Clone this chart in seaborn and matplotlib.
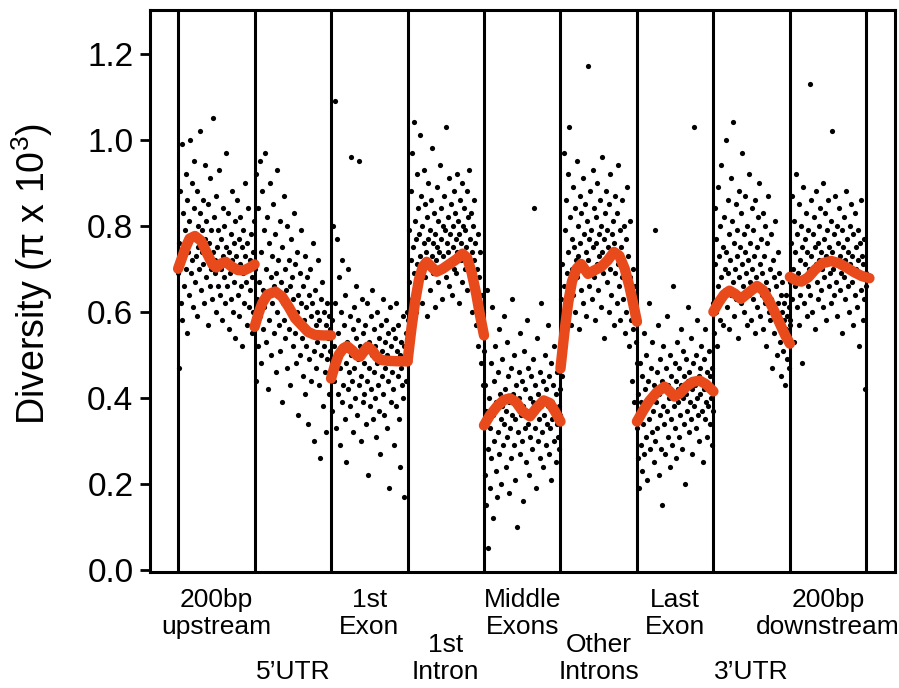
import numpy as np
import pandas as pd
import matplotlib
matplotlib.use('Agg')
import matplotlib.pyplot as plt
import matplotlib.transforms as mtransforms
import seaborn as sns

# region labels (left to right)
regions = ["200bp\nupstream", "5\u2019UTR", "1st\nExon", "1st\nIntron", "Middle\nExons",
           "Other\nIntrons", "Last\nExon", "3\u2019UTR", "200bp\ndownstream"]

# diversity per window (pi x 10^3)
up200 = [0.69, 0.47, 0.76, 0.88, 0.62, 0.71, 0.99, 0.58, 0.83, 0.73, 0.66, 0.79, 0.92, 0.70, 0.55, 0.86, 0.74, 0.81, 0.64, 1.00,
         0.77, 0.69, 0.90, 0.72, 0.61, 0.84, 0.95, 0.78, 0.67, 0.73, 0.88, 0.59, 0.80, 0.75, 0.70, 0.83, 1.02, 0.65, 0.79, 0.74,
         0.86, 0.71, 0.62, 0.94, 0.77, 0.68, 0.81, 0.73, 0.57, 0.85, 0.76, 0.66, 0.91, 0.70, 0.79, 0.63, 0.74, 1.05, 0.82, 0.69,
         0.72, 0.60, 0.87, 0.75, 0.66, 0.79, 0.71, 0.93, 0.64, 0.77, 0.70, 0.58, 0.84, 0.73, 0.68, 0.80, 0.62, 0.75, 0.97, 0.71,
         0.66, 0.83, 0.56, 0.74, 0.69, 0.78, 0.63, 0.88, 0.72, 0.60, 0.76, 0.67, 0.81, 0.54, 0.73, 0.70, 0.86, 0.64, 0.77, 0.59,
         0.71, 0.82, 0.66, 0.75, 0.52, 0.69, 0.79, 0.62, 0.73, 0.90, 0.67, 0.57, 0.76, 0.70, 0.84, 0.61, 0.72, 0.65, 0.78, 0.55,
         0.68, 0.74, 0.60, 0.81, 0.70]
utr5 = [0.57, 0.71, 0.44, 0.92, 0.63, 0.52, 0.84, 0.67, 0.95, 0.59, 0.74, 0.48, 0.88, 0.65, 0.56, 0.79, 0.61, 0.97, 0.70, 0.53,
        0.82, 0.64, 0.42, 0.76, 0.58, 0.90, 0.68, 0.50, 0.73, 0.62, 0.85, 0.55, 0.66, 0.78, 0.46, 0.69, 0.60, 0.93, 0.72, 0.57,
        0.64, 0.81, 0.51, 0.67, 0.75, 0.39, 0.62, 0.87, 0.58, 0.70, 0.54, 0.65, 0.80, 0.47, 0.61, 0.72, 0.56, 0.66, 0.43, 0.77,
        0.59, 0.68, 0.52, 0.63, 0.83, 0.55, 0.71, 0.48, 0.60, 0.74, 0.36, 0.64, 0.57, 0.69, 0.50, 0.62, 0.79, 0.54, 0.45, 0.66,
        0.58, 0.73, 0.41, 0.61, 0.52, 0.68, 0.56, 0.34, 0.64, 0.49, 0.70, 0.59, 0.44, 0.62, 0.55, 0.76, 0.51, 0.30, 0.65, 0.57,
        0.47, 0.60, 0.53, 0.72, 0.43, 0.58, 0.26, 0.63, 0.50, 0.55, 0.67, 0.38, 0.60, 0.52, 0.46, 0.57, 0.32, 0.62, 0.49, 0.54,
        0.41, 0.59, 0.51, 0.56, 0.45]
exon1 = [0.46, 0.58, 0.37, 0.80, 0.52, 0.44, 1.09, 0.62, 0.33, 0.49, 0.77, 0.41, 0.55, 0.68, 0.29, 0.47, 0.60, 0.39, 0.72, 0.51,
         0.43, 0.57, 0.35, 0.64, 0.48, 0.25, 0.53, 0.42, 0.70, 0.46, 0.59, 0.38, 0.96, 0.50, 0.44, 0.56, 0.32, 0.61, 0.47, 0.40,
         0.54, 0.66, 0.36, 0.49, 0.58, 0.43, 0.95, 0.52, 0.30, 0.45, 0.63, 0.39, 0.55, 0.48, 0.41, 0.57, 0.34, 0.51, 0.62, 0.44,
         0.22, 0.53, 0.47, 0.38, 0.59, 0.42, 0.50, 0.65, 0.35, 0.46, 0.56, 0.40, 0.52, 0.31, 0.48, 0.60, 0.43, 0.54, 0.37, 0.49,
         0.27, 0.57, 0.45, 0.51, 0.41, 0.63, 0.36, 0.53, 0.47, 0.58, 0.33, 0.50, 0.44, 0.55, 0.19, 0.48, 0.61, 0.39, 0.52, 0.46,
         0.56, 0.42, 0.29, 0.54, 0.49, 0.62, 0.38, 0.51, 0.45, 0.57, 0.35, 0.50, 0.24, 0.53, 0.47, 0.43, 0.59, 0.40, 0.17, 0.52,
         0.48, 0.55, 0.44, 0.60, 0.50]
intron1 = [0.58, 0.49, 0.67, 0.79, 0.55, 0.72, 0.88, 0.63, 0.97, 0.75, 0.69, 1.04, 0.81, 0.60, 0.77, 0.92, 0.71, 0.84, 0.66, 0.78,
           1.01, 0.73, 0.87, 0.62, 0.80, 0.70, 0.93, 0.76, 0.68, 0.85, 0.74, 0.59, 0.82, 0.77, 0.90, 0.71, 0.65, 0.79, 0.86, 0.73,
           0.98, 0.76, 0.69, 0.83, 0.61, 0.78, 0.72, 0.89, 0.75, 0.67, 0.81, 0.74, 0.94, 0.70, 0.84, 0.77, 0.63, 0.80, 0.73, 0.87,
           0.71, 0.79, 1.03, 0.68, 0.76, 0.82, 0.74, 0.91, 0.66, 0.78, 0.72, 0.85, 0.64, 0.80, 0.75, 0.88, 0.70, 0.83, 0.77, 0.69,
           0.92, 0.74, 0.81, 0.62, 0.78, 0.86, 0.72, 0.76, 0.90, 0.67, 0.80, 0.73, 0.84, 0.70, 0.79, 0.75, 0.88, 0.65, 0.82, 0.71,
           0.93, 0.77, 0.68, 0.83, 0.74, 0.60, 0.80, 0.72, 0.86, 0.66, 0.76, 0.57, 0.70, 0.63, 0.78, 0.52, 0.68, 0.59, 0.74, 0.48,
           0.64, 0.55, 0.43, 0.60, 0.51]
mid_exon = [0.34, 0.22, 0.43, 0.15, 0.37, 0.65, 0.28, 0.05, 0.40, 0.19, 0.33, 0.48, 0.26, 0.61, 0.36, 0.12, 0.44, 0.30, 0.52, 0.23,
            0.39, 0.17, 0.46, 0.32, 0.56, 0.27, 0.41, 0.35, 0.20, 0.49, 0.38, 0.29, 0.59, 0.34, 0.42, 0.24, 0.37, 0.53, 0.31, 0.45,
            0.18, 0.39, 0.33, 0.47, 0.26, 0.63, 0.36, 0.41, 0.29, 0.50, 0.35, 0.21, 0.43, 0.38, 0.10, 0.32, 0.46, 0.40, 0.27, 0.55,
            0.36, 0.30, 0.44, 0.16, 0.38, 0.51, 0.33, 0.42, 0.25, 0.37, 0.58, 0.34, 0.47, 0.22, 0.40, 0.31, 0.45, 0.36, 0.28, 0.49,
            0.39, 0.84, 0.33, 0.43, 0.19, 0.37, 0.54, 0.30, 0.41, 0.35, 0.26, 0.46, 0.38, 0.62, 0.32, 0.44, 0.24, 0.40, 0.36, 0.50,
            0.29, 0.42, 0.34, 0.57, 0.38, 0.27, 0.45, 0.33, 0.48, 0.21, 0.39, 0.35, 0.43, 0.30, 0.52, 0.37, 0.25, 0.41, 0.34, 0.46,
            0.31, 0.38, 0.28, 0.42, 0.36]
oth_intron = [0.52, 0.63, 0.45, 0.71, 0.58, 0.97, 0.66, 0.79, 0.55, 0.86, 0.69, 0.61, 0.92, 0.74, 1.03, 0.67, 0.82, 0.57, 0.77, 0.70,
              0.89, 0.64, 0.75, 0.84, 0.60, 0.72, 0.95, 0.68, 0.80, 0.73, 0.56, 0.87, 0.76, 0.65, 0.83, 0.71, 0.91, 0.62, 0.78, 0.69,
              0.85, 0.74, 0.59, 0.81, 0.72, 1.17, 0.77, 0.66, 0.88, 0.70, 0.79, 0.63, 0.93, 0.75, 0.68, 0.84, 0.58, 0.76, 0.82, 0.71,
              0.90, 0.65, 0.78, 0.73, 0.86, 0.61, 0.80, 0.74, 0.96, 0.69, 0.77, 0.54, 0.83, 0.72, 0.88, 0.67, 0.79, 0.75, 0.60, 0.85,
              0.70, 0.92, 0.64, 0.78, 0.73, 0.81, 0.57, 0.76, 0.87, 0.69, 0.74, 0.62, 0.83, 0.71, 0.94, 0.66, 0.79, 0.58, 0.75, 0.68,
              0.86, 0.63, 0.72, 0.80, 0.55, 0.70, 0.77, 0.60, 0.89, 0.65, 0.73, 0.52, 0.68, 0.81, 0.58, 0.64, 0.44, 0.70, 0.56, 0.61,
              0.39, 0.66, 0.53, 0.59, 0.48]
last_exon = [0.33, 0.26, 0.41, 0.19, 0.36, 0.48, 0.29, 0.39, 0.23, 0.45, 0.34, 0.55, 0.27, 0.42, 0.31, 0.50, 0.38, 0.21, 0.44, 0.35,
             0.62, 0.28, 0.40, 0.47, 0.32, 0.53, 0.37, 0.25, 0.43, 0.30, 0.79, 0.39, 0.46, 0.33, 0.57, 0.41, 0.22, 0.36, 0.49, 0.28,
             0.44, 0.15, 0.38, 0.52, 0.34, 0.42, 0.27, 0.47, 0.37, 0.59, 0.31, 0.43, 0.40, 0.24, 0.50, 0.35, 0.45, 0.29, 0.41, 0.66,
             0.38, 0.48, 0.33, 0.44, 0.26, 0.53, 0.39, 0.42, 0.31, 0.47, 0.36, 0.56, 0.43, 0.28, 0.40, 0.51, 0.34, 0.45, 0.20, 0.41,
             0.49, 0.37, 0.61, 0.44, 0.32, 0.46, 0.39, 0.54, 0.35, 0.42, 0.27, 0.48, 0.38, 1.03, 0.43, 0.33, 0.50, 0.40, 0.58, 0.36,
             0.45, 0.30, 0.47, 0.41, 0.52, 0.37, 0.44, 0.25, 0.42, 0.49, 0.35, 0.56, 0.39, 0.46, 0.31, 0.43, 0.38, 0.51, 0.34, 0.45,
             0.40, 0.29, 0.47, 0.37, 0.42]
utr3 = [0.62, 0.55, 0.71, 0.84, 0.60, 0.77, 0.52, 0.66, 0.89, 0.73, 0.58, 0.80, 0.68, 0.94, 0.63, 0.75, 0.57, 0.82, 0.70, 0.65,
        1.00, 0.74, 0.61, 0.86, 0.69, 0.78, 0.56, 0.72, 0.91, 0.64, 0.81, 0.67, 1.04, 0.76, 0.59, 0.70, 0.85, 0.63, 0.79, 0.73,
        0.54, 0.88, 0.68, 0.75, 0.62, 0.83, 0.71, 0.97, 0.66, 0.78, 0.60, 0.74, 0.87, 0.69, 0.57, 0.80, 0.72, 0.64, 0.92, 0.67,
        0.76, 0.58, 0.84, 0.70, 0.63, 0.79, 0.73, 0.55, 0.86, 0.68, 0.75, 0.61, 0.82, 0.66, 0.90, 0.71, 0.59, 0.77, 0.64, 0.69,
        0.83, 0.56, 0.73, 0.62, 0.80, 0.67, 0.52, 0.76, 0.65, 0.87, 0.60, 0.70, 0.58, 0.78, 0.63, 0.47, 0.72, 0.61, 0.68, 0.55,
        0.81, 0.59, 0.66, 0.50, 0.74, 0.62, 0.57, 0.69, 0.53, 0.64, 0.45, 0.60, 0.67, 0.51, 0.58, 0.62, 0.43, 0.56, 0.64, 0.49,
        0.59, 0.54, 0.61, 0.47, 0.57]
down200 = [0.67, 0.58, 0.76, 0.63, 0.87, 0.70, 0.53, 0.81, 0.66, 0.74, 0.92, 0.61, 0.78, 0.69, 0.85, 0.57, 0.72, 0.64, 0.80, 0.48,
           0.75, 0.68, 0.89, 0.62, 0.77, 0.71, 0.83, 0.59, 0.74, 0.66, 0.79, 0.70, 1.13, 0.64, 0.86, 0.73, 0.60, 0.78, 0.69, 0.82,
           0.75, 0.56, 0.71, 0.88, 0.67, 0.76, 0.63, 0.80, 0.72, 0.84, 0.65, 0.74, 0.70, 0.90, 0.61, 0.77, 0.68, 0.83, 0.73, 0.58,
           0.79, 0.71, 0.86, 0.66, 0.75, 0.69, 0.81, 0.62, 1.02, 0.74, 0.70, 0.78, 0.64, 0.87, 0.72, 0.67, 0.80, 0.59, 0.76, 0.71,
           0.84, 0.65, 0.73, 0.69, 0.79, 0.55, 0.75, 0.82, 0.68, 0.72, 0.63, 0.88, 0.70, 0.77, 0.66, 0.74, 0.60, 0.80, 0.71, 0.85,
           0.67, 0.73, 0.57, 0.78, 0.69, 0.83, 0.64, 0.75, 0.70, 0.61, 0.79, 0.72, 0.52, 0.76, 0.68, 0.86, 0.65, 0.73, 0.58, 0.71,
           0.63, 0.77, 0.42, 0.69, 0.66]
dots = [up200, utr5, exon1, intron1, mid_exon, oth_intron, last_exon, utr3, down200]

# smoothed trend per region: position within region (0-1) and value
trend_pos = [
    [0, 0.05, 0.1, 0.15, 0.22, 0.3, 0.38, 0.45, 0.5, 0.56, 0.62, 0.7, 0.78, 0.86, 0.93, 1.0],
    [0, 0.05, 0.1, 0.17, 0.27, 0.36, 0.45, 0.53, 0.62, 0.7, 0.79, 0.9, 1.0],
    [0, 0.05, 0.1, 0.16, 0.21, 0.28, 0.34, 0.38, 0.43, 0.48, 0.54, 0.6, 0.66, 0.75, 0.87, 1.0],
    [0, 0.05, 0.1, 0.15, 0.2, 0.25, 0.31, 0.38, 0.46, 0.55, 0.64, 0.72, 0.78, 0.84, 0.9, 0.95, 1.0],
    [0, 0.08, 0.17, 0.26, 0.34, 0.42, 0.5, 0.6, 0.68, 0.78, 0.86, 0.93, 1.0],
    [0, 0.05, 0.1, 0.15, 0.21, 0.27, 0.32, 0.36, 0.44, 0.53, 0.62, 0.7, 0.77, 0.84, 0.9, 0.95, 1.0],
    [0, 0.08, 0.16, 0.26, 0.36, 0.43, 0.49, 0.56, 0.64, 0.73, 0.82, 0.9, 1.0],
    [0, 0.07, 0.14, 0.21, 0.28, 0.36, 0.45, 0.57, 0.65, 0.73, 0.8, 0.87, 0.94, 1.0],
    [0, 0.08, 0.15, 0.24, 0.33, 0.43, 0.54, 0.64, 0.74, 0.84, 0.94, 1.04],
]
trend_val = [
    [0.70, 0.725, 0.75, 0.77, 0.776, 0.765, 0.735, 0.71, 0.703, 0.712, 0.716, 0.705, 0.697, 0.696, 0.702, 0.71],
    [0.565, 0.595, 0.62, 0.64, 0.647, 0.635, 0.61, 0.585, 0.568, 0.553, 0.546, 0.545, 0.545],
    [0.445, 0.475, 0.50, 0.515, 0.52, 0.51, 0.498, 0.496, 0.508, 0.519, 0.51, 0.495, 0.488, 0.486, 0.485, 0.485],
    [0.485, 0.56, 0.625, 0.675, 0.705, 0.716, 0.705, 0.693, 0.70, 0.711, 0.722, 0.735, 0.725, 0.69, 0.64, 0.59, 0.545],
    [0.336, 0.36, 0.38, 0.395, 0.399, 0.39, 0.37, 0.357, 0.375, 0.394, 0.388, 0.368, 0.345],
    [0.468, 0.55, 0.62, 0.67, 0.70, 0.711, 0.698, 0.688, 0.696, 0.704, 0.72, 0.739, 0.73, 0.70, 0.66, 0.62, 0.577],
    [0.345, 0.37, 0.392, 0.413, 0.426, 0.415, 0.403, 0.41, 0.425, 0.437, 0.44, 0.432, 0.415],
    [0.60, 0.622, 0.64, 0.649, 0.642, 0.63, 0.643, 0.66, 0.65, 0.625, 0.60, 0.572, 0.545, 0.526],
    [0.681, 0.673, 0.67, 0.68, 0.698, 0.713, 0.718, 0.713, 0.703, 0.692, 0.683, 0.678],
]

# build long tables
pts = []
for i, vals in enumerate(dots):
    xs = i + np.linspace(0, 1, len(vals))
    pts.append(pd.DataFrame({'x': xs, 'y': vals, 'seg': i}))
pts = pd.concat(pts, ignore_index=True)

trend = []
for i, (p, v) in enumerate(zip(trend_pos, trend_val)):
    trend.append(pd.DataFrame({'x': i + np.array(p), 'y': v, 'seg': i}))
trend = pd.concat(trend, ignore_index=True)

sns.set_theme(style='ticks')
plt.rcParams['font.family'] = ['Liberation Sans', 'DejaVu Sans']
plt.rcParams['text.color'] = 'black'
plt.rcParams['axes.labelcolor'] = 'black'
plt.rcParams['ytick.color'] = 'black'

fig = plt.figure(figsize=(8.99, 6.88), dpi=100)
ax = fig.add_axes([0.167, 0.169, 0.829, 0.817])

sns.scatterplot(data=pts, x='x', y='y', color='black', s=14, linewidth=0, ax=ax, zorder=1)
for b in range(len(regions) + 1):
    ax.axvline(b, color='black', lw=2.2, zorder=2)
sns.lineplot(data=trend, x='x', y='y', units='seg', estimator=None, sort=False,
             color='#e84a1c', lw=7.5, ax=ax, zorder=3,
             solid_capstyle='round', solid_joinstyle='round')

ax.set_xlim(-0.366, 9.38)
ax.set_ylim(-0.004, 1.302)
ax.set_yticks([0.0, 0.2, 0.4, 0.6, 0.8, 1.0, 1.2])
ax.set_yticklabels(['0.0', '0.2', '0.4', '0.6', '0.8', '1.0', '1.2'])
ax.set_xticks([])
ax.set_xlabel('')
ax.set_ylabel('Diversity (\u03c0 x 10$^{\\mathregular{3}}$)', fontsize=27)
ax.yaxis.set_label_coords(-0.128, 0.53)
ax.tick_params(axis='y', labelsize=24, length=7, width=2, direction='out', pad=5, colors='black')
for sp in ax.spines.values():
    sp.set_linewidth(2.2)
    sp.set_color('black')

# region names below the axis, alternating two rows
trans = mtransforms.blended_transform_factory(ax.transData, fig.transFigure)
for i, name in enumerate(regions):
    if i % 2 == 0:
        ax.text(i + 0.5, 1 - 588 / 688, name, transform=trans, ha='center', va='top',
                fontsize=19, linespacing=1.15, color='black')
    else:
        ax.text(i + 0.5, 1 - 684 / 688, name, transform=trans, ha='center', va='bottom',
                fontsize=19, linespacing=1.15, color='black')

fig.savefig('out.png', dpi=100, facecolor='white')
